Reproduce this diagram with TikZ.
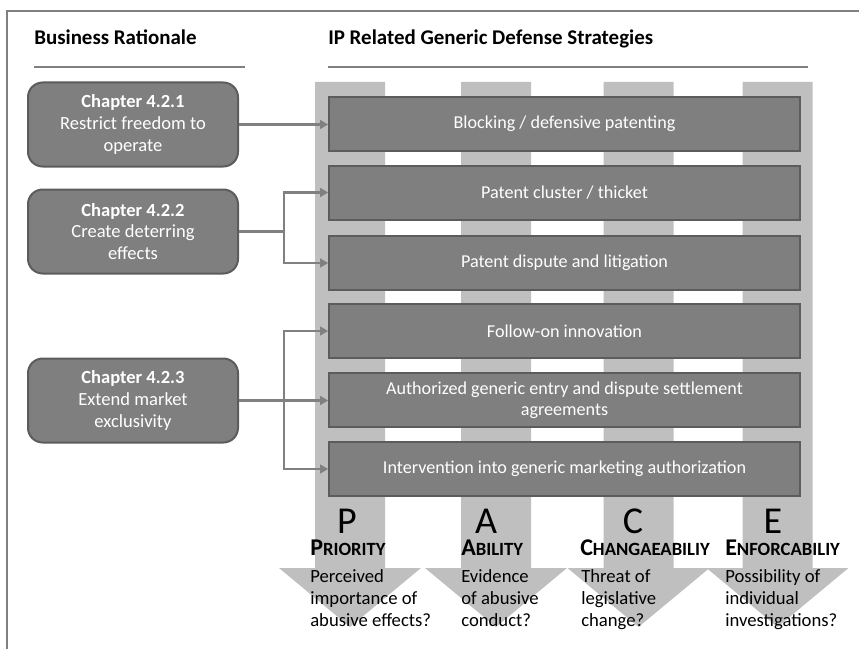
\documentclass[tikz,border=0pt]{standalone}
\usepackage{fontspec}
\setmainfont{Carlito}
\usetikzlibrary{arrows.meta}
\usepackage{xcolor}
\definecolor{colgray}{RGB}{191,191,191}
\definecolor{boxfill}{RGB}{127,127,127}
\definecolor{boxline}{RGB}{92,92,92}
\definecolor{linkgray}{RGB}{128,128,128}
\newcommand{\capword}[2]{{\fontsize{18}{20}\selectfont #1}{\fontsize{14}{16}\selectfont #2}}

\begin{document}
\begin{tikzpicture}[x=0.75pt,y=0.75pt,yscale=-1,xscale=1,
  chapbox/.style={draw=boxline, fill=boxfill, line width=1.5pt, rounded corners=11pt, minimum width=157.5pt, minimum height=63pt, text=white, align=center, font=\fontsize{13.9}{16.3}\selectfont, inner sep=0pt},
  stratbox/.style={draw=boxline, fill=boxfill, line width=1.5pt, minimum width=353pt, minimum height=40.5pt, text=white, align=center, font=\fontsize{13.6}{16}\selectfont, inner sep=0pt},
  link/.style={draw=linkgray, line width=2pt},
  linkarrow/.style={link, -{Triangle[length=6pt,width=6.5pt]}},
  heading/.style={anchor=base west, inner sep=0pt, font=\fontsize{15.7}{18}\selectfont\bfseries},
  bigletter/.style={anchor=base, inner sep=0pt, font=\fontsize{28.5}{30}\selectfont},
  pacelabel/.style={anchor=base west, inner sep=0pt, font=\bfseries},
  pacetext/.style={anchor=north west, inner sep=0pt, align=left, font=\fontsize{14}{16.5}\selectfont}
]
\useasboundingbox (0,0) rectangle (859,649);

%Frame
\draw [draw=linkgray, line width=1.2pt] (7,649) -- (7,11) -- (859,11) ;

% Text Node
\node [heading] (hbus) at (34,45) {Business Rationale};
% Text Node
\node [heading] (hip) at (328,45) {IP Related Generic Defense Strategies};
%Straight Lines
\draw [draw=linkgray, line width=1.5pt] (34,67) -- (245,67) ;
\draw [draw=linkgray, line width=1.5pt] (328,67) -- (808,67) ;

%Shape: PACE columns with arrow heads
\foreach \cx in {350,496,638.5,777.5}{
  \fill [colgray] (\cx-35,82) -- (\cx+35,82) -- (\cx+35,568) -- (\cx+71,568) -- (\cx,627) -- (\cx-71,568) -- (\cx-35,568) -- cycle ;
}

%Shape: strategy boxes
\node [stratbox] (s1) at (564.5,124) {Blocking / defensive patenting};
\node [stratbox] (s2) at (564.5,192.5) {Patent cluster / thicket};
\node [stratbox] (s3) at (564.5,263) {Patent dispute and litigation};
\node [stratbox] (s4) at (564.5,331) {Follow-on innovation};
\node [stratbox] (s5) at (564.5,400) {Authorized generic entry and dispute settlement\\agreements};
\node [stratbox] (s6) at (564.5,469) {Intervention into generic marketing authorization};

%Shape: chapter boxes
\node [chapbox] (c1) at (133,124.5) {\textbf{Chapter 4.2.1}\\Restrict freedom to\\operate};
\node [chapbox] (c2) at (133,231.5) {\textbf{Chapter 4.2.2}\\Create deterring\\effects};
\node [chapbox] (c3) at (133,400.5) {\textbf{Chapter 4.2.3}\\Extend market\\exclusivity};

%Straight Lines
\draw [linkarrow] (c1.east) -- (c1.east -| s1.west) ;
\draw [link] (c2.east) -- ++(45,0) coordinate (j2) ;
\draw [linkarrow] (j2) |- (s2.west) ;
\draw [linkarrow] (j2) |- (s3.west) ;
\draw [link] (c3.east) -- ++(45,0) coordinate (j3) ;
\draw [linkarrow] (j3) |- (s4.west) ;
\draw [linkarrow] (j3) -- (j3 -| s5.west) ;
\draw [linkarrow] (j3) |- (s6.west) ;

% Text Node
\node [bigletter] (lp) at (347,533) {P};
\node [bigletter] (la) at (486,533) {A};
\node [bigletter] (lc) at (633,533) {C};
\node [bigletter] (le) at (773,533) {E};
% Text Node
\node [pacelabel] (tp) at (310,555) {\capword{P}{RIORITY}};
\node [pacelabel] (ta) at (461,555) {\capword{A}{BILITY}};
\node [pacelabel] (tc) at (580,555) {\capword{C}{HANGAEABILIY}};
\node [pacelabel] (te) at (725,555) {\capword{E}{NFORCABILIY}};
% Text Node
\node [pacetext] (dp) at (310,569) {Perceived\\importance of\\abusive effects?};
\node [pacetext] (da) at (461,569) {Evidence\\of abusive\\conduct?};
\node [pacetext] (dc) at (581,569) {Threat of\\legislative\\change?};
\node [pacetext] (de) at (725,569) {Possibility of\\individual\\investigations?};

\end{tikzpicture}
\end{document}
